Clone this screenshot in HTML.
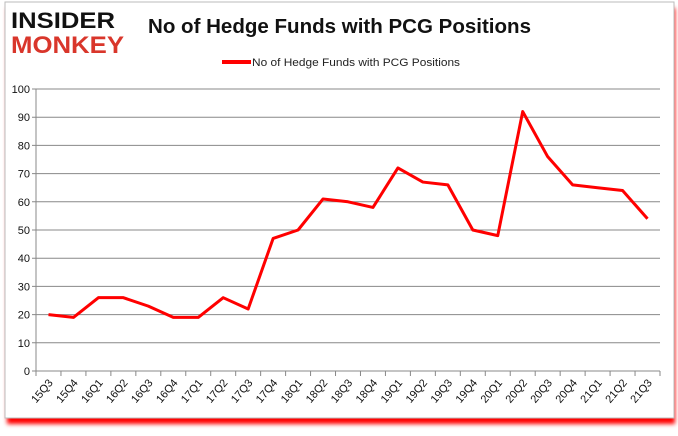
<!DOCTYPE html>
<html><head><meta charset="utf-8"><style>
body{margin:0;width:678px;height:431px;background:#fff;overflow:hidden;font-family:"Liberation Sans",sans-serif}
</style></head><body>
<svg width="678" height="431" xmlns="http://www.w3.org/2000/svg">
<defs><filter id="sh" x="-5%" y="-5%" width="110%" height="115%"><feGaussianBlur stdDeviation="2"/></filter></defs>
<rect x="7" y="8" width="668" height="416" fill="#f00" filter="url(#sh)"/>
<rect x="5" y="2" width="669" height="416" fill="#fff" stroke="#bbb"/>
<g>
<text x="11" y="28" font-size="22" font-weight="bold" fill="#111" textLength="104" lengthAdjust="spacingAndGlyphs">INSIDER</text>
<text x="11" y="53" font-size="24" font-weight="bold" fill="#d9362b" textLength="113" lengthAdjust="spacingAndGlyphs">MONKEY</text>
</g>
<text x="148" y="33" font-size="20" font-weight="bold" fill="#111" textLength="383" lengthAdjust="spacingAndGlyphs">No of Hedge Funds with PCG Positions</text>
<line x1="222" y1="62" x2="251" y2="62" stroke="#f00" stroke-width="4"/>
<text x="252" y="66" font-size="11" fill="#222" textLength="208" lengthAdjust="spacingAndGlyphs">No of Hedge Funds with PCG Positions</text>
<g id="grid"></g><g id="axes"></g><g id="series"></g>
</svg>
<script>
const categories=["15Q3","15Q4","16Q1","16Q2","16Q3","16Q4","17Q1","17Q2","17Q3","17Q4","18Q1","18Q2","18Q3","18Q4","19Q1","19Q2","19Q3","19Q4","20Q1","20Q2","20Q3","20Q4","21Q1","21Q2","21Q3"];
const values=[20,19,26,26,23,19,19,26,22,47,50,61,60,58,72,67,66,50,48,92,76,66,65,64,54];
const yTicks=[0,10,20,30,40,50,60,70,80,90,100];
const NS="http://www.w3.org/2000/svg";
const L=36,R=660,T=89,B=371;
const cw=(R-L)/categories.length;
const xs=i=>L+cw*(i+0.5);
const ys=v=>B-(v/100)*(B-T);
function mk(t,a,p){const e=document.createElementNS(NS,t);for(const k in a)e.setAttribute(k,a[k]);p.appendChild(e);return e;}
const grid=document.getElementById('grid'),axes=document.getElementById('axes'),ser=document.getElementById('series');
yTicks.forEach(v=>{
 const g=mk('line',{x1:L-4,x2:R,y1:ys(v),y2:ys(v),stroke:'#888','stroke-width':1},grid);
 
 
 const t=mk('text',{x:L-6,y:ys(v)+4,'font-size':11,'text-anchor':'end',fill:'#111'},axes);
 t.textContent=v;
 
 
});
const ya=mk('line',{x1:L,x2:L,y1:T,y2:B,stroke:'#888'},axes);


for(let i=0;i<=categories.length;i++){
 const tk=mk('line',{x1:L+cw*i,x2:L+cw*i,y1:B,y2:B+5,stroke:'#888'},axes);
 
 
}
categories.forEach((c,i)=>{
 const x=xs(i)+5,y=B+12;
 const t=mk('text',{x:x,y:y,'font-size':11,'text-anchor':'end',fill:'#111',transform:`rotate(-50 ${x} ${y})`},axes);
 t.textContent=c;
 
 
});
const p=mk('polyline',{points:values.map((v,i)=>xs(i)+','+ys(v)).join(' '),fill:'none',stroke:'#f00','stroke-width':3,'stroke-linejoin':'round'},ser);


</script>
</body></html>
